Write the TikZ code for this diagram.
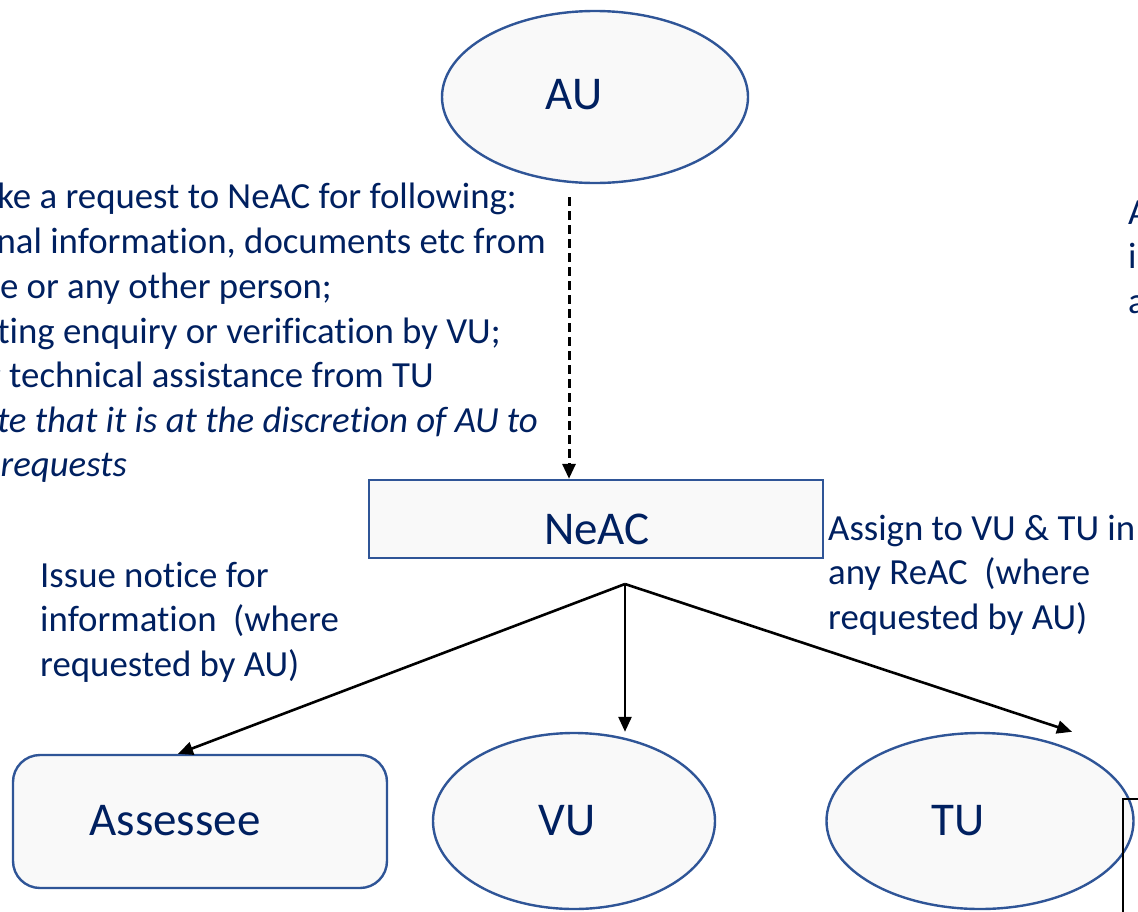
\documentclass[tikz,border=0pt]{standalone}
\usepackage{fontspec}
\setmainfont{Carlito}[Ligatures=NoCommon]
\usetikzlibrary{shapes.geometric,arrows.meta}
\definecolor{navytext}{RGB}{0,32,96}
\definecolor{shapeline}{RGB}{47,85,151}
\definecolor{shapefill}{RGB}{249,249,249}
\begin{document}
\begin{tikzpicture}[x=1pt,y=-1pt,
  unitshape/.style={draw=shapeline,fill=shapefill,line width=2.4pt,inner sep=0pt},
  oval/.style={unitshape,ellipse},
  bigtext/.style={text=navytext,font=\fontsize{47}{56}\selectfont,inner sep=0pt,anchor=base},
  note/.style={text=navytext,font=\fontsize{36.8}{44.5}\selectfont,inner sep=0pt},
  link/.style={line width=2.6pt,-{Triangle[length=15pt,width=13pt]}},
  dlink/.style={line width=3pt,dash pattern=on 9pt off 5pt,-{Triangle[length=15pt,width=13pt]}}
]
\useasboundingbox (0,0) rectangle (1138,911);

% shapes
\node[oval,minimum width=306pt,minimum height=172pt] (au) at (595,97) {};
\node[unitshape,rectangle,minimum width=454pt,minimum height=78pt] (neac) at (596,519) {};
\node[unitshape,rectangle,rounded corners=27pt,minimum width=374pt,minimum height=133pt] (ass) at (200,821.5) {};
\node[oval,minimum width=282pt,minimum height=176pt] (vu) at (574,821) {};
\node[oval,minimum width=307pt,minimum height=176pt] (tu) at (980,821) {};

% shape captions
\node[bigtext] (autxt) at (574,109) {AU};
\node[bigtext] (neactxt) at (597,544) {NeAC};
\node[bigtext] (asstxt) at (175,835) {Assessee};
\node[bigtext] (vutxt) at (567,835) {VU};
\node[bigtext] (tutxt) at (958,835) {TU};

% request text at the upper left
\node[note,anchor=base east] (r1) at (517,208) {ke a request to NeAC for following:};
\node[note,anchor=base east] (r2) at (546,253) {nal information, documents etc from};
\node[note,anchor=base east] (r3) at (332,298) {e or any other person;};
\node[note,anchor=base east] (r4) at (501,343) {ting enquiry or verification by VU;};
\node[note,anchor=base east] (r5) at (434,387) {g technical assistance from TU};
\node[note,anchor=base east] (r6) at (538,432) {\itshape te that it is at the discretion of AU to};
\node[note,anchor=base east] (r7) at (127,476) {\itshape requests};

% text at the right edge
\node[note,anchor=base west] (e1) at (1128,224) {A};
\node[note,anchor=base west] (e2) at (1128,268) {i};
\node[note,anchor=base west] (e3) at (1128,313) {a};

% arrow labels (base anchor sits on the last line)
\node[note,anchor=base west,align=left] (issue) at (40,676)
  {Issue notice for\\information\ \ (where\\requested by AU)};
\node[note,anchor=base west,align=left] (assign) at (828,629)
  {Assign to VU \& TU in\\any ReAC\ \ (where\\requested by AU)};

% connectors
\coordinate (dtop) at (569,197);
\coordinate (hub) at (625,584);
\draw[dlink] (dtop) -- (dtop |- neac.north);
\draw[link] (hub) -- ([xshift=-22pt]ass.north);
\draw[link] (hub) -- (hub |- vu.north);
\draw[link] (hub) -- ([xshift=92pt]tu.north);

% frame at the lower right edge
\draw[line width=1.5pt] (1123,799) rectangle (1300,1000);
\end{tikzpicture}
\end{document}
